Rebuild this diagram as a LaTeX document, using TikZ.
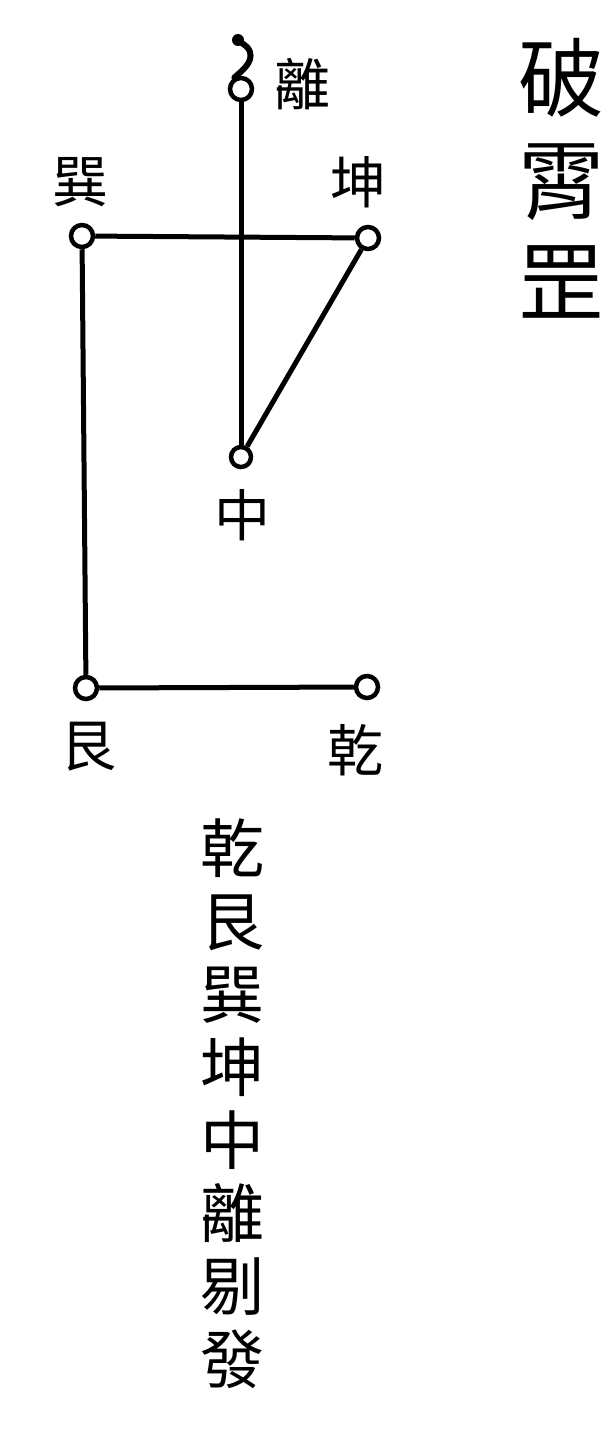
\documentclass[tikz,border=0pt]{standalone}
\usepackage{fontspec}
\newfontfamily\cjk{Noto Sans CJK TC}
\begin{document}
\begin{tikzpicture}[x=1pt,y=-1pt,line width=5pt,
  gua/.style={circle, draw, line width=4.5pt, minimum size=22pt, inner sep=0pt, fill=white},
  lbl/.style={font=\cjk\fontsize{56}{56}\selectfont, inner sep=0pt},
  big/.style={font=\cjk\fontsize{64}{73}\selectfont, inner sep=0pt, align=center},
  ttl/.style={font=\cjk\fontsize{86}{102}\selectfont, inner sep=0pt, align=center}]
  \useasboundingbox (0,0) rectangle (615,1435);

  \node[gua] (li) at (241,89) {};
  \node[gua] (xun) at (82,236) {};
  \node[gua] (kun) at (368,238) {};
  \node[gua, minimum size=20pt] (zhong) at (241,457) {};
  \node[gua] (gen) at (86,688) {};
  \node[gua] (qian) at (367,687) {};

  \draw (li) -- (zhong);
  \draw (xun) -- (kun);
  \draw (kun) -- (zhong);
  \draw (xun) -- (gen);
  \draw (gen) -- (qian);

  \coordinate (tail) at (238,40);
  \draw[line cap=round, line width=6pt] (li.120) .. controls (243,70) and (253,62) .. (250,52) .. controls (247,44) and (241,44) .. (tail);
  \fill (tail) circle (6);

  \node[lbl] (lili) at (302,84) {離};
  \node[lbl] (lxun) at (80,182) {巽};
  \node[lbl] (lkun) at (358,182) {坤};
  \node[lbl] (lzhong) at (242,515) {中};
  \node[lbl] (lgen) at (88,747) {艮};
  \node[lbl] (lqian) at (355,750) {乾};

  \node[ttl] (title) at (561,178) {破\\霄\\罡};
  \node[big] (rule) at (232,1104) {乾\\艮\\巽\\坤\\中\\離\\剔\\發};
\end{tikzpicture}
\end{document}
